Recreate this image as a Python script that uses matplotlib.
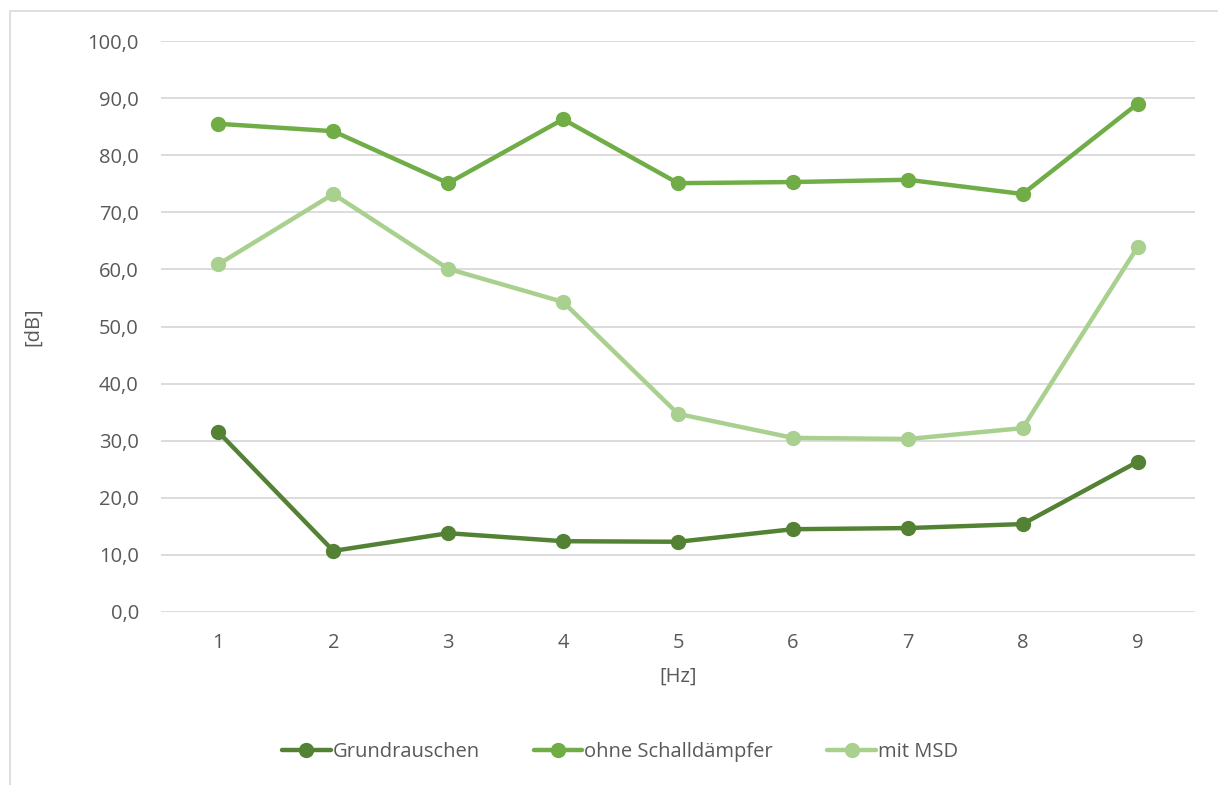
import matplotlib
matplotlib.use('Agg')
import matplotlib.pyplot as plt
from matplotlib.patches import Rectangle
from matplotlib.ticker import FuncFormatter

plt.rcParams['font.family'] = ['Open Sans', 'DejaVu Sans']

hz = [1, 2, 3, 4, 5, 6, 7, 8, 9]
grundrauschen = [31.5, 10.7, 13.8, 12.4, 12.3, 14.5, 14.7, 15.4, 26.3]
ohne_sd = [85.5, 84.2, 75.1, 86.3, 75.1, 75.3, 75.7, 73.2, 89.0]
mit_msd = [60.9, 73.2, 60.1, 54.3, 34.7, 30.5, 30.3, 32.2, 63.9]

series = [
    ('Grundrauschen', grundrauschen, '#548235'),
    ('ohne Schalldämpfer', ohne_sd, '#70AD47'),
    ('mit MSD', mit_msd, '#A9D08E'),
]

grey = '#595959'

fig = plt.figure(figsize=(12.18, 7.85), dpi=100)
# chart border (cropped at right and bottom)
fig.patches.append(Rectangle((10 / 1218, -0.1), 1.2, 1 - 11 / 785 + 0.1,
                             transform=fig.transFigure, fill=False,
                             edgecolor='#D9D9D9', linewidth=1.2))

ax = fig.add_axes([161 / 1218, 1 - 612 / 785, (1195 - 161) / 1218, (612 - 41) / 785])

for name, vals, col in series:
    ax.plot(hz, vals, color=col, linewidth=3.2, marker='o', markersize=10,
            label=name, solid_capstyle='round')

ax.set_xlim(0.5, 9.5)
ax.set_ylim(0, 100)
ax.set_xticks(hz)
ax.set_yticks(range(0, 101, 10))
ax.yaxis.set_major_formatter(FuncFormatter(lambda v, p: f'{v:.1f}'.replace('.', ',')))
ax.grid(axis='y', color='#D9D9D9', linewidth=1.3)
ax.set_axisbelow(True)
for s in ax.spines.values():
    s.set_visible(False)
ax.tick_params(length=0, labelsize=14.5, colors=grey)
ax.tick_params(axis='x', pad=15)
ax.tick_params(axis='y', pad=16)

ax.set_xlabel('[Hz]', fontsize=14.5, color=grey, labelpad=10)
ax.set_ylabel('[dB]', fontsize=14.5, color=grey, labelpad=32)

ax.legend(loc='center', bbox_to_anchor=(620 / 1218, 1 - 752 / 785),
          bbox_transform=fig.transFigure, ncol=3, frameon=False,
          fontsize=14.5, labelcolor=grey, handlelength=2.4, handletextpad=0.1,
          columnspacing=2.7)

fig.savefig('out.png', dpi=100)
